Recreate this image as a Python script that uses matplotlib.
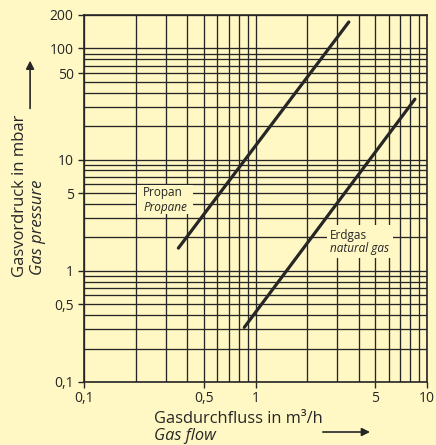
import matplotlib
matplotlib.use("Agg")
import matplotlib.pyplot as plt
from matplotlib.patches import Rectangle, FancyArrowPatch
from matplotlib.ticker import LogLocator, NullFormatter

plt.rcParams['font.family'] = ['Open Sans', 'DejaVu Sans']

bg = '#fff8c4'
ink = '#262626'

# Druck-Durchfluss-Kennlinien (m3/h -> mbar)
propan_flow = [0.355, 3.5]
propan_pressure = [1.6, 173]
erdgas_flow = [0.86, 8.5]
erdgas_pressure = [0.31, 35]

xticks = [0.1, 0.5, 1, 5, 10]
xtick_labels = ['0,1', '0,5', '1', '5', '10']
yticks = [0.1, 0.5, 1, 5, 10, 60, 100, 200]
ytick_labels = ['0,1', '0,5', '1', '5', '10', '50', '100', '200']

fig = plt.figure(figsize=(4.36, 4.45), dpi=100, facecolor=bg)
ax = fig.add_axes([0.1927, 0.1416, 0.7867, 0.8247], facecolor=bg)

ax.set_xscale('log')
ax.set_yscale('log')
ax.set_xlim(0.1, 10)
ax.set_ylim(0.1, 200)

# Raster: alle Haupt- und Nebenteilungen
ax.xaxis.set_minor_locator(LogLocator(base=10, subs=range(2, 10)))
ax.yaxis.set_minor_locator(LogLocator(base=10, subs=range(2, 10)))
ax.xaxis.set_minor_formatter(NullFormatter())
ax.yaxis.set_minor_formatter(NullFormatter())
ax.grid(True, which='both', color=ink, lw=0.95, zorder=1)
ax.set_axisbelow(True)
for s in ax.spines.values():
    s.set_color(ink)
    s.set_linewidth(1.2)

ax.set_xticks(xticks)
ax.set_xticklabels(xtick_labels)
ax.set_yticks(yticks)
ax.set_yticklabels(ytick_labels)
ax.tick_params(which='minor', length=0)
ax.tick_params(which='major', length=4.5, width=1, color=ink, labelsize=10,
               labelcolor=ink)
ax.tick_params(axis='y', pad=3)
ax.tick_params(axis='x', pad=2)

ax.plot(propan_flow, propan_pressure, color=ink, lw=2.3, zorder=3,
        solid_capstyle='round')
ax.plot(erdgas_flow, erdgas_pressure, color=ink, lw=2.3, zorder=3,
        solid_capstyle='round')

# Beschriftungsfelder ueber dem Raster
ax.add_patch(Rectangle((0.1545, 0.4578), 0.1633, 0.079, transform=ax.transAxes,
                       facecolor=bg, edgecolor='none', zorder=2))
ax.add_patch(Rectangle((0.7085, 0.3379), 0.1924, 0.0899, transform=ax.transAxes,
                       facecolor=bg, edgecolor='none', zorder=2))
ax.text(0.172, 0.515, 'Propan', transform=ax.transAxes, fontsize=8.5,
        color=ink, va='center', zorder=4)
ax.text(0.172, 0.4768, 'Propane', transform=ax.transAxes, fontsize=8.5,
        style='italic', color=ink, va='center', zorder=4)
ax.text(0.717, 0.3978, 'Erdgas', transform=ax.transAxes, fontsize=8.5,
        color=ink, va='center', zorder=4)
ax.text(0.717, 0.3624, 'natural gas', transform=ax.transAxes, fontsize=8.5,
        style='italic', color=ink, va='center', zorder=4)

# Achsentitel
fig.text(0.047, 0.3775, 'Gasvordruck in mbar', rotation=90, fontsize=12,
         color=ink, ha='center', va='bottom')
fig.text(0.087, 0.382, 'Gas pressure', rotation=90, fontsize=12,
         style='italic', color=ink, ha='center', va='bottom')
fig.text(0.353, 0.0494, 'Gasdurchfluss in m³/h', fontsize=11.8,
         color=ink, ha='left', va='baseline')
fig.text(0.353, 0.0105, 'Gas flow', fontsize=11.8, style='italic',
         color=ink, ha='left', va='baseline')

fig.add_artist(FancyArrowPatch((0.069, 0.75), (0.069, 0.87),
                               transform=fig.transFigure, arrowstyle='-|>',
                               mutation_scale=12, color=ink, lw=1.2))
fig.add_artist(FancyArrowPatch((0.734, 0.0292), (0.855, 0.0292),
                               transform=fig.transFigure, arrowstyle='-|>',
                               mutation_scale=12, color=ink, lw=1.2))

fig.savefig('out.png', dpi=100, facecolor=bg)
